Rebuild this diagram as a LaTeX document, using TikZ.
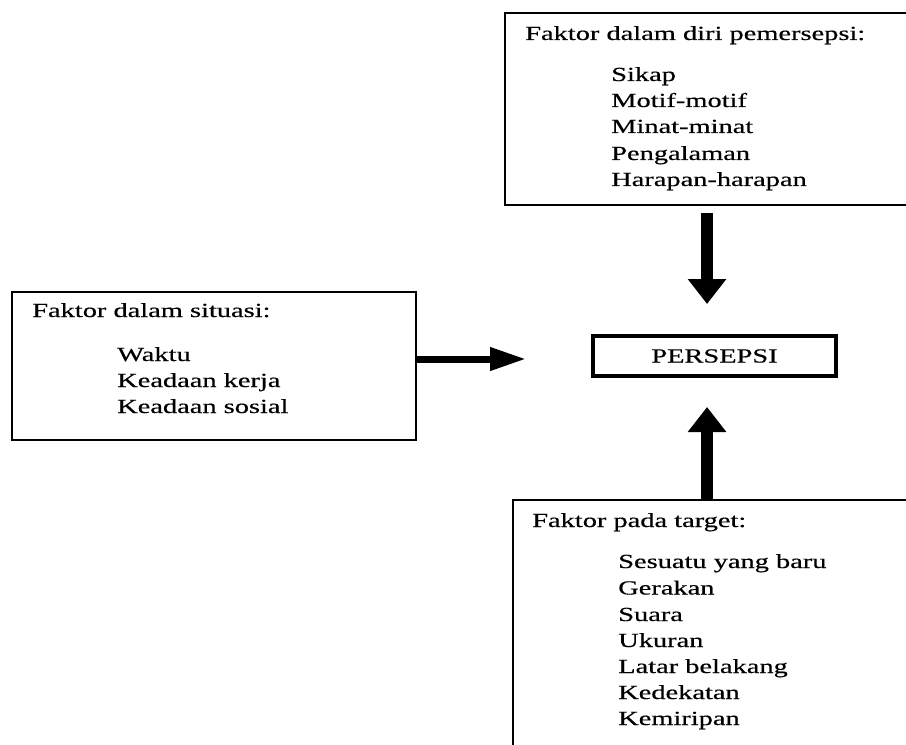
\documentclass[tikz,border=0pt]{standalone}
\usepackage{amsmath}
\usepackage{tikz}
\usepackage{fontspec}
\setmainfont{Liberation Serif}[FakeStretch=1.42,FakeBold=0.5]
\usetikzlibrary{arrows.meta}

\begin{document}
\begin{tikzpicture}[x=0.75pt,y=0.75pt,yscale=-1,xscale=1,
  box/.style={draw, line width=1.9pt, outer sep=0pt, inner sep=0pt, anchor=north west},
  keybox/.style={draw, line width=2.5pt, outer sep=0pt, minimum width=182.25pt, minimum height=30pt, font=\fontsize{15pt}{19.7pt}\selectfont},
  txt/.style={inner sep=0pt, anchor=base west, font=\fontsize{15pt}{19.7pt}\selectfont},
  varrow/.style={line width=9pt, -{Triangle[width=27.75pt,length=18.75pt]}},
  harrow/.style={line width=5.25pt, -{Triangle[width=16.5pt,length=27pt]}}]
%set diagram size 906 x 745
\useasboundingbox (0,0) rectangle (906,745);
\clip (0,0) rectangle (906,745);

%Shape: Rectangle [diri]
\node[box, minimum width=311.25pt, minimum height=144pt] (diri) at (505,13) {};
% Text Node
\node[txt] (diriHead) at (525,40) {Faktor dalam diri pemersepsi:};
\node[txt] (sikap) at (611,81) {Sikap};
\node[txt] (motif) at (611,107) {Motif-motif};
\node[txt] (minat) at (611,133) {Minat-minat};
\node[txt] (pengalaman) at (611,160) {Pengalaman};
\node[txt] (harapan) at (611,186) {Harapan-harapan};

%Shape: Rectangle [situasi]
\node[box, minimum width=303pt, minimum height=111pt] (situasi) at (12,292) {};
% Text Node
\node[txt] (situasiHead) at (32,317) {Faktor dalam situasi:};
\node[txt] (waktu) at (117,361) {Waktu};
\node[txt] (kerja) at (117,387) {Keadaan kerja};
\node[txt] (sosial) at (117,413) {Keadaan sosial};

%Shape: Rectangle [persepsi]
\node[keybox] (persepsi) at (714.5,356) {PERSEPSI};

%Shape: Rectangle [target]
\node[box, minimum width=305.25pt, minimum height=195pt] (target) at (513,500) {};
% Text Node
\node[txt] (targetHead) at (532,527) {Faktor pada target:};
\node[txt] (baru) at (618,568) {Sesuatu yang baru};
\node[txt] (gerakan) at (618,594.5) {Gerakan};
\node[txt] (suara) at (618,621) {Suara};
\node[txt] (ukuran) at (618,647) {Ukuran};
\node[txt] (latar) at (618,673) {Latar belakang};
\node[txt] (kedekatan) at (618,699) {Kedekatan};
\node[txt] (kemiripan) at (618,725) {Kemiripan};

%Straight Lines [arrows]
\draw[varrow, shorten <=6pt, shorten >=24pt] ([xshift=-5.6pt]persepsi.north |- diri.south) -- ([xshift=-5.6pt]persepsi.north);
\draw[harrow, shorten >=50.25pt] ([yshift=2.25pt]situasi.east |- persepsi.west) -- ([yshift=2.25pt]persepsi.west);
\draw[varrow, shorten >=23.25pt] ([xshift=-5.6pt]persepsi.south |- target.north) -- ([xshift=-5.6pt]persepsi.south);

\end{tikzpicture}
\end{document}
